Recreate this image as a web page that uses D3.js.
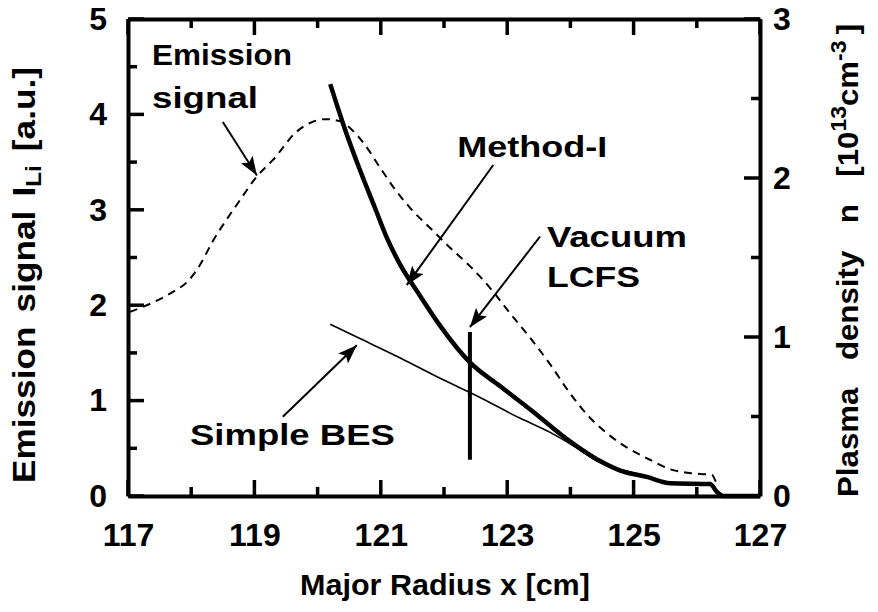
<!DOCTYPE html>
<html lang="en">
<head>
<meta charset="UTF-8" />
<title>Emission signal and plasma density</title>
<style>
  body { margin: 0; background: #fff; }
  svg { display: block; }
  text { font-family: "Liberation Sans", Arial, sans-serif; font-weight: bold; fill: #000; }
</style>
</head>
<body>
<svg width="878" height="612"></svg>
<script src="https://cdnjs.cloudflare.com/ajax/libs/d3/7.8.5/d3.min.js"></script>
<script>
// values (x in cm, emission in a.u., density in 1e13 cm^-3)
const emissionX = [117.03, 117.40, 117.71, 117.93, 118.09, 118.35, 118.77, 119.04, 119.29, 119.67, 119.88, 120.12, 120.35, 120.54, 120.75, 120.99, 121.23, 121.49, 121.81, 122.10, 122.41, 122.73, 123.04, 123.36, 123.68, 123.99, 124.31, 124.63, 124.94, 125.26, 125.58, 125.89, 126.24, 126.30];
const emissionY = [1.93, 2.03, 2.14, 2.24, 2.37, 2.68, 3.10, 3.35, 3.52, 3.82, 3.91, 3.95, 3.93, 3.84, 3.68, 3.44, 3.21, 3.00, 2.79, 2.60, 2.41, 2.18, 1.92, 1.66, 1.38, 1.08, 0.82, 0.63, 0.49, 0.38, 0.28, 0.24, 0.22, 0.15];

const methodX = [120.20, 120.43, 120.67, 120.91, 121.10, 121.30, 121.62, 121.94, 122.41, 122.89, 123.41, 123.84, 124.15, 124.47, 124.79, 125.21, 125.58, 126.21, 126.32, 126.42, 127.0];
const methodY = [2.59, 2.31, 2.05, 1.81, 1.62, 1.46, 1.26, 1.07, 0.84, 0.69, 0.53, 0.39, 0.30, 0.22, 0.16, 0.12, 0.08, 0.075, 0.025, 0.0, 0.0];

const besX = [120.20, 120.67, 121.30, 121.94, 122.57, 123.20, 123.68, 124.07, 124.47, 124.86, 125.26];
const besY = [1.08, 0.99, 0.87, 0.74, 0.62, 0.49, 0.40, 0.31, 0.21, 0.16, 0.12];

// vacuum LCFS position and its drawn extent (left-axis units)
const lcfsX = 122.41;
const lcfsSpan = [0.38, 1.72];

const xMajor = [117, 119, 121, 123, 125, 127];
const xMinor = [118, 120, 122, 124, 126];
const leftMajor = [0, 1, 2, 3, 4, 5];
const leftMinor = [0.5, 1.5, 2.5, 3.5, 4.5];
const rightMajor = [0, 1, 2, 3];
const rightMinor = [0.5, 1.5, 2.5];

// annotation labels & arrows, in x / left-axis units
const labels = [
  { text: "Emission", x: 117.38, y: 4.52, w: 140 },
  { text: "signal", x: 117.38, y: 4.07, w: 106 },
  { text: "Method-I", x: 122.21, y: 3.55, w: 150 },
  { text: "Vacuum", x: 123.63, y: 2.61, w: 140 },
  { text: "LCFS", x: 123.63, y: 2.19, w: 93 },
  { text: "Simple BES", x: 117.98, y: 0.53, w: 205 }
];
const arrows = [
  { from: [118.50, 3.92], to: [119.04, 3.36] },
  { from: [122.78, 3.47], to: [121.41, 2.21] },
  { from: [123.52, 2.72], to: [122.41, 1.77] },
  { from: [119.45, 0.83], to: [120.62, 1.58] }
];

const mLeft = 128, mRight = 760, mTop = 19, mBottom = 496;

const svg = d3.select("svg");

const x = d3.scaleLinear().domain([117, 127]).range([mLeft, mRight]);
const yL = d3.scaleLinear().domain([0, 5]).range([mBottom, mTop]);
const yR = d3.scaleLinear().domain([0, 3]).range([mBottom, mTop]);

// frame + labels from d3 axes
function drawAxis(axisFn, scale, major, transform, pad, labelled) {
  const g = svg.append("g").attr("transform", transform)
    .call(axisFn(scale).tickValues(major).tickSize(0)
      .tickPadding(pad).tickFormat(labelled ? d3.format("d") : ""));
  g.select(".domain").attr("stroke", "#000").attr("stroke-width", 4);
  g.selectAll("text").attr("font-size", 32).attr("font-family", null);
  g.attr("font-family", null);
  return g;
}
drawAxis(d3.axisBottom, x, xMajor, `translate(0,${mBottom})`, 27, true);
drawAxis(d3.axisTop, x, xMajor, `translate(0,${mTop})`, 0, false);
drawAxis(d3.axisLeft, yL, leftMajor, `translate(${mLeft},0)`, 21, true);
drawAxis(d3.axisRight, yR, rightMajor, `translate(${mRight},0)`, 13, true);

// inward ticks
const ticks = svg.append("g").attr("class", "ticks");
function tickLines(vals, x1, x2, y1, y2) {
  ticks.selectAll(null).data(vals).enter().append("line")
    .attr("x1", x1).attr("x2", x2).attr("y1", y1).attr("y2", y2)
    .attr("stroke", "#000").attr("stroke-width", 3.5);
}
[[xMajor, 16], [xMinor, 9]].forEach(([vals, len]) => {
  tickLines(vals, d => x(d), d => x(d), mBottom, mBottom - len);
  tickLines(vals, d => x(d), d => x(d), mTop, mTop + len);
});
[[leftMajor, 16], [leftMinor, 9]].forEach(([vals, len]) => {
  tickLines(vals, mLeft, mLeft + len, d => yL(d), d => yL(d));
});
[[rightMajor, 16], [rightMinor, 9]].forEach(([vals, len]) => {
  tickLines(vals, mRight, mRight - len, d => yR(d), d => yR(d));
});

// curves
const lineL = d3.line().x(d => x(d[0])).y(d => yL(d[1])).curve(d3.curveMonotoneX);
const lineR = d3.line().x(d => x(d[0])).y(d => yR(d[1])).curve(d3.curveMonotoneX);

svg.append("path")
  .attr("d", lineL(d3.zip(emissionX, emissionY)))
  .attr("fill", "none").attr("stroke", "#000")
  .attr("stroke-width", 2).attr("stroke-dasharray", "8,6");

svg.append("path")
  .attr("d", lineR(d3.zip(besX, besY)))
  .attr("fill", "none").attr("stroke", "#000").attr("stroke-width", 1.6);

svg.append("path")
  .attr("d", lineR(d3.zip(methodX, methodY)))
  .attr("fill", "none").attr("stroke", "#000")
  .attr("stroke-width", 4.5).attr("stroke-linejoin", "round");

svg.append("line")
  .attr("x1", x(lcfsX)).attr("x2", x(lcfsX))
  .attr("y1", yL(lcfsSpan[0])).attr("y2", yL(lcfsSpan[1]))
  .attr("stroke", "#000").attr("stroke-width", 4);

// arrows
svg.append("defs").append("marker")
  .attr("id", "head")
  .attr("markerUnits", "userSpaceOnUse")
  .attr("markerWidth", 20).attr("markerHeight", 14)
  .attr("refX", 19).attr("refY", 7)
  .attr("orient", "auto")
  .append("path").attr("d", "M0,0L19,7L0,14L4,7Z").attr("fill", "#000");

svg.selectAll(".arrow")
  .data(arrows)
  .join("line")
  .attr("class", "arrow")
  .attr("x1", d => x(d.from[0])).attr("y1", d => yL(d.from[1]))
  .attr("x2", d => x(d.to[0])).attr("y2", d => yL(d.to[1]))
  .attr("stroke", "#000").attr("stroke-width", 2)
  .attr("marker-end", "url(#head)");

// annotation text, stretched sideways to the width it has in the figure
svg.selectAll(".note")
  .data(labels)
  .join("text")
  .attr("class", "note")
  .attr("font-size", 30)
  .text(d => d.text)
  .each(function(d) {
    const k = d.w / this.getComputedTextLength();
    d3.select(this).attr("transform",
      `translate(${x(d.x)},${yL(d.y)}) scale(${k},1)`);
  });

// fit a title to a given length along its own direction
function fit(t, px, py, rot, len) {
  const k = len / t.node().getComputedTextLength();
  t.attr("transform", `translate(${px},${py}) rotate(${rot}) scale(${k},1)`);
}

// axis titles
const bt = svg.append("text")
  .attr("text-anchor", "middle").attr("font-size", 29)
  .text("Major Radius x [cm]");
fit(bt, 445, 595, 0, 290);

const lt = svg.append("text")
  .attr("font-size", 32)
  .attr("word-spacing", 4);
lt.append("tspan").text("Emission signal I");
lt.append("tspan").attr("font-size", 22).attr("dy", 6).text("Li");
lt.append("tspan").attr("dy", -6).text(" [a.u.]");
fit(lt, 35, 483, -90, 416);

const rt = svg.append("text")
  .attr("font-size", 30)
  .attr("word-spacing", 18);
rt.append("tspan").text("Plasma density n [10");
rt.append("tspan").attr("font-size", 22).attr("dy", -12).text("13");
rt.append("tspan").attr("dy", 12).text("cm");
rt.append("tspan").attr("font-size", 22).attr("dy", -12).text("-3");
rt.append("tspan").attr("dy", 12).attr("dx", 6).text("]");
fit(rt, 858, 497, -90, 467);
</script>
</body>
</html>
